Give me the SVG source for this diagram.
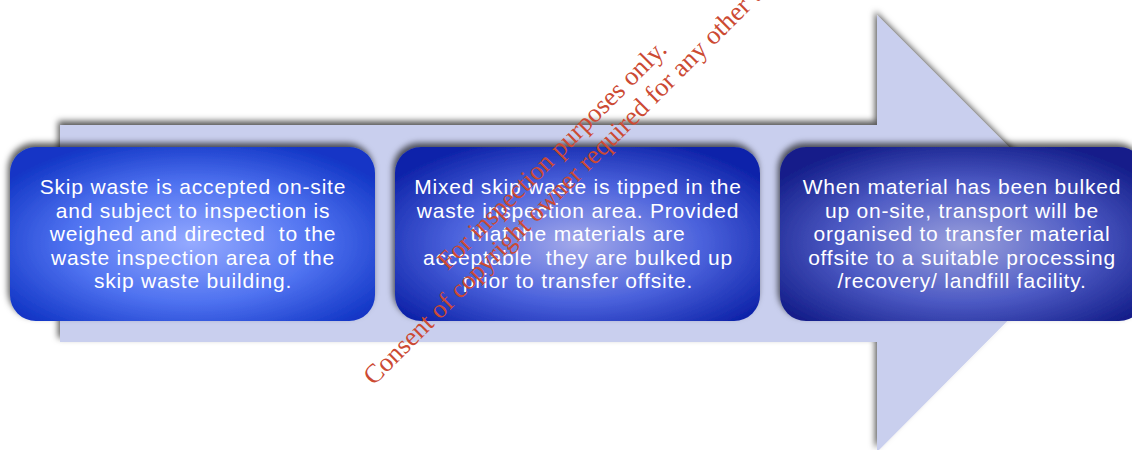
<svg xmlns="http://www.w3.org/2000/svg" width="1132" height="450" viewBox="0 0 1132 450">
<defs>
<style>
.box-text{font-family:"Liberation Sans",Arial,sans-serif;font-size:21px;fill:#ffffff;text-anchor:middle;letter-spacing:0.8px;white-space:pre}
.wm{font-family:"Liberation Serif","Times New Roman",serif;font-size:26.5px;fill:#cc4a33;text-anchor:middle}
</style>
<filter id="sh" x="-10%" y="-20%" width="120%" height="140%">
<feDropShadow dx="-2" dy="-4" stdDeviation="3" flood-color="#000" flood-opacity="0.65"/>
</filter>
<radialGradient id="g1" cx="0.5" cy="0.55" r="0.62">
<stop offset="0" stop-color="#95aaff"/>
<stop offset="0.55" stop-color="#4f72f0"/>
<stop offset="1" stop-color="#1236c6"/>
</radialGradient>
<radialGradient id="g2" cx="0.5" cy="0.55" r="0.62">
<stop offset="0" stop-color="#a3a9ea"/>
<stop offset="0.55" stop-color="#4b62dc"/>
<stop offset="1" stop-color="#0f24aa"/>
</radialGradient>
<radialGradient id="g3" cx="0.5" cy="0.55" r="0.62">
<stop offset="0" stop-color="#9aa0dc"/>
<stop offset="0.55" stop-color="#4d5ac4"/>
<stop offset="1" stop-color="#141e8a"/>
</radialGradient>
</defs>
<rect width="1132" height="450" fill="#ffffff"/>
<g id="arrow">
<polygon points="60,125 877,125 877,15 1095,233 877,452 877,342 60,342" fill="#c9cfee" filter="url(#sh)"/>
</g>
<g id="connectors"></g>
<g id="node1">
<rect x="10" y="147" width="365" height="174" rx="26" fill="url(#g1)" filter="url(#sh)"/>
<text class="box-text" x="193" y="194">Skip waste is accepted on-site</text>
<text class="box-text" x="193" y="217.5">and subject to inspection is</text>
<text class="box-text" x="193" y="241">weighed and directed  to the</text>
<text class="box-text" x="193" y="264.5">waste inspection area of the</text>
<text class="box-text" x="193" y="288">skip waste building.</text>
</g>
<g id="node2">
<rect x="395" y="147" width="365" height="174" rx="26" fill="url(#g2)" filter="url(#sh)"/>
<text class="box-text" x="578" y="194">Mixed skip waste is tipped in the</text>
<text class="box-text" x="578" y="217.5">waste inspection area. Provided</text>
<text class="box-text" x="578" y="241">that the materials are</text>
<text class="box-text" x="578" y="264.5">acceptable  they are bulked up</text>
<text class="box-text" x="578" y="288">prior to transfer offsite.</text>
</g>
<g id="node3">
<rect x="780" y="147" width="365" height="174" rx="26" fill="url(#g3)" filter="url(#sh)"/>
<text class="box-text" x="962" y="194">When material has been bulked</text>
<text class="box-text" x="962" y="217.5">up on-site, transport will be</text>
<text class="box-text" x="962" y="241">organised to transfer material</text>
<text class="box-text" x="962" y="264.5">offsite to a suitable processing</text>
<text class="box-text" x="962" y="288">/recovery/ landfill facility.</text>
</g>
<g id="watermark">
<text class="wm" x="558" y="161" transform="rotate(-45 558 161)">For inspection purposes only.</text>
<text class="wm" x="580" y="180" transform="rotate(-45 580 180)">Consent of copyright owner required for any other use.</text>
</g>
</svg>
